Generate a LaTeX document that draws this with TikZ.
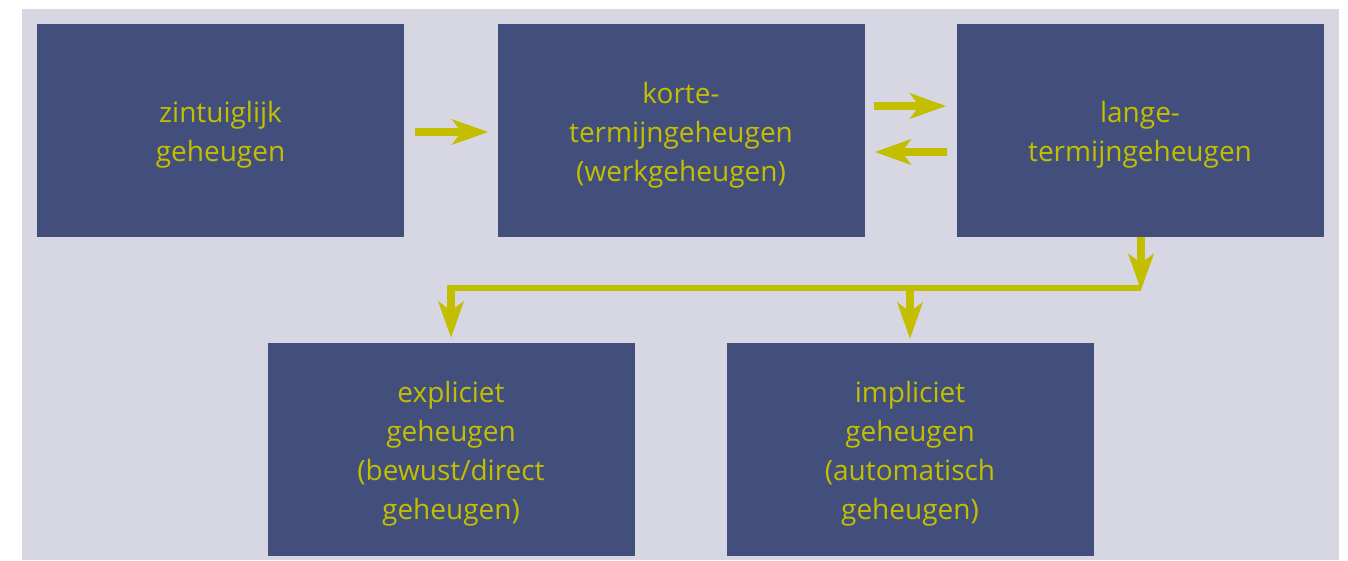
\documentclass[tikz,border=0pt]{standalone}
\usepackage{fontspec}
\setmainfont{Open Sans}
\usetikzlibrary{arrows.meta}
\definecolor{panelbg}{HTML}{D7D7E3}
\definecolor{boxblue}{HTML}{424F7D}
\definecolor{olive}{HTML}{C3BE00}
\tikzset{
  block/.style={fill=boxblue, draw=none, minimum width=367pt, minimum height=213pt,
    inner sep=0pt},
  caption/.style={inner sep=0pt, align=center, text=olive,
    font=\fontsize{28}{39}\selectfont},
  fatarrow/.style={draw=olive, line width=8pt,
    -{Stealth[length=36pt,width=25pt,inset=9pt]}},
  wire/.style={draw=olive, line width=6pt}
}
\begin{document}
\begin{tikzpicture}[x=1pt, y=-1pt]
  % canvas and light panel
  \useasboundingbox (0,0) rectangle (1348,560);
  \fill[white] (0,0) rectangle (1348,560);
  \fill[panelbg] (22,9) rectangle (1339,560);

  % memory stores
  \node[block] (zin)  at (220.5,130.5) {};
  \node[block] (kort) at (681,130.5)   {};
  \node[block] (lang) at (1140,130.5)  {};
  \node[block] (expl) at (451,449.5)   {};
  \node[block] (impl) at (910,449.5)   {};

  % their captions, set slightly below centre
  \node[caption] (zin-t)  at ([yshift=-4.5pt]zin.center)  {zintuiglijk\\geheugen};
  \node[caption] (kort-t) at ([yshift=-4.5pt]kort.center) {korte-\\termijngeheugen\\(werkgeheugen)};
  \node[caption] (lang-t) at ([yshift=-4.5pt]lang.center) {lange-\\termijngeheugen};
  \node[caption] (expl-t) at ([yshift=-4.5pt]expl.center) {expliciet\\geheugen\\(bewust/direct\\geheugen)};
  \node[caption] (impl-t) at ([yshift=-4.5pt]impl.center) {impliciet\\geheugen\\(automatisch\\geheugen)};

  % top row flow
  \draw[fatarrow] ([xshift=11pt,yshift=-1.5pt]zin.east) -- ([xshift=-9pt,yshift=-1.5pt]kort.west);
  \draw[fatarrow] ([xshift=9pt,yshift=24.5pt]kort.east) -- ([xshift=-10pt,yshift=24.5pt]lang.west);
  \draw[fatarrow] ([xshift=-9pt,yshift=-21.5pt]lang.west) -- ([xshift=10pt,yshift=-21.5pt]kort.east);

  % branching to the long-term subsystems
  \coordinate (hr) at (1141,288);
  \coordinate (hl) at (expl.north |- hr);
  \coordinate (hm) at (impl.north |- hr);
  \draw[wire] (hr) -- (hl);
  \draw[fatarrow] ([xshift=1pt]lang.south) -- ([xshift=1pt,yshift=-53pt]lang.south);
  \draw[fatarrow] ([yshift=3pt]hl) -- ([yshift=5pt]expl.north);
  \draw[fatarrow] (hm) -- ([yshift=4pt]impl.north);
\end{tikzpicture}
\end{document}
